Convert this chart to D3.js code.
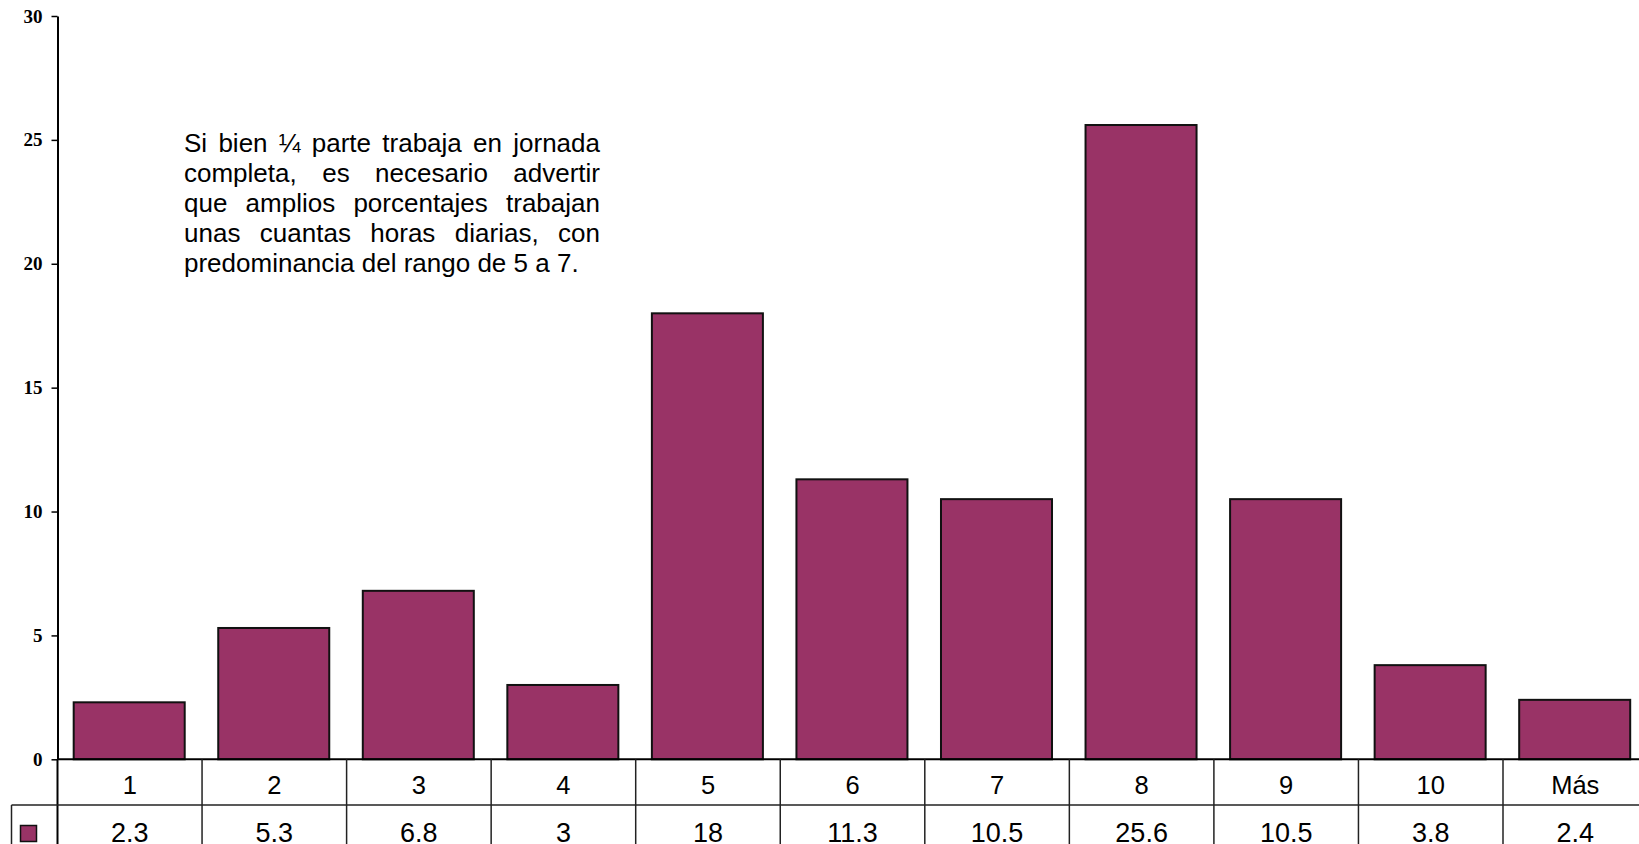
<!DOCTYPE html>
<html>
<head>
<meta charset="utf-8">
<script src="https://cdn.jsdelivr.net/npm/d3@7"></script>
<style>
  html, body { margin: 0; padding: 0; background: #fff; }
  svg { display: block; }
</style>
</head>
<body>
<svg id="chart" width="1639" height="844"></svg>
<script>
// ---- data ----
const categories = ["1", "2", "3", "4", "5", "6", "7", "8", "9", "10", "Más"];
const values = [2.3, 5.3, 6.8, 3, 18, 11.3, 10.5, 25.6, 10.5, 3.8, 2.4];
const valueLabels = ["2.3", "5.3", "6.8", "3", "18", "11.3", "10.5", "25.6", "10.5", "3.8", "2.4"];
const yTicks = [0, 5, 10, 15, 20, 25, 30];
const noteLines = [
  "Si bien ¼ parte trabaja en jornada",
  "completa, es necesario advertir",
  "que amplios porcentajes trabajan",
  "unas cuantas horas diarias, con",
  "predominancia del rango de 5 a 7."
];

// ---- layout ----
const W = 1639, H = 844;
const x0 = 57.5, step = 144.55;
const yTop = 16, yZero = 759.3;
const rowSplit = 805;
const barColor = "#993366";

const svg = d3.select("#chart");

const x = d3.scaleBand()
  .domain(categories)
  .range([x0, x0 + step * categories.length])
  .padding(0);

const y = d3.scaleLinear().domain([0, 30]).range([yZero, yTop]);

// bars
const inset = x.bandwidth() * 0.112;
const bw = x.bandwidth() * 0.768;
svg.append("g").selectAll("rect")
  .data(values)
  .join("rect")
  .attr("x", (d, i) => x(categories[i]) + inset)
  .attr("y", d => y(d))
  .attr("width", bw)
  .attr("height", d => y(0) - y(d))
  .attr("fill", barColor)
  .attr("stroke", "#111")
  .attr("stroke-width", 2);

// y axis
const yAxis = d3.axisLeft(y)
  .tickValues(yTicks)
  .tickSize(6)
  .tickSizeOuter(0)
  .tickPadding(9)
  .tickFormat(d3.format("d"));

const gy = svg.append("g")
  .attr("transform", `translate(${x0},0)`)
  .call(yAxis);
gy.select(".domain").attr("stroke", "#000").attr("stroke-width", 2);
gy.selectAll(".tick line").attr("stroke", "#000").attr("stroke-width", 1.5);
gy.selectAll(".tick text")
  .attr("font-family", "'Liberation Serif', 'Times New Roman', serif")
  .attr("font-weight", "bold")
  .attr("font-size", 19)
  .attr("fill", "#000");

// axis extension down through the table
svg.append("line")
  .attr("x1", x0).attr("x2", x0)
  .attr("y1", yZero).attr("y2", H)
  .attr("stroke", "#000").attr("stroke-width", 2);

// horizontal baseline / table lines
svg.append("line")
  .attr("x1", x0).attr("x2", W)
  .attr("y1", yZero).attr("y2", yZero)
  .attr("stroke", "#000").attr("stroke-width", 2);
svg.append("line")
  .attr("x1", 11.5).attr("x2", W)
  .attr("y1", rowSplit).attr("y2", rowSplit)
  .attr("stroke", "#222").attr("stroke-width", 1.5);
svg.append("line")
  .attr("x1", 11.5).attr("x2", 11.5)
  .attr("y1", rowSplit).attr("y2", H)
  .attr("stroke", "#222").attr("stroke-width", 1.5);

// vertical cell dividers
svg.append("g").selectAll("line")
  .data(categories.slice(1))
  .join("line")
  .attr("x1", d => x(d)).attr("x2", d => x(d))
  .attr("y1", yZero).attr("y2", H)
  .attr("stroke", "#222").attr("stroke-width", 1.5);

// category labels
svg.append("g").selectAll("text")
  .data(categories)
  .join("text")
  .attr("x", d => x(d) + x.bandwidth() / 2)
  .attr("y", 793.5)
  .attr("text-anchor", "middle")
  .attr("font-family", "'Liberation Sans', Arial, sans-serif")
  .attr("font-size", 25.5)
  .attr("fill", "#000")
  .text(d => d);

// value labels
svg.append("g").selectAll("text")
  .data(valueLabels)
  .join("text")
  .attr("x", (d, i) => x(categories[i]) + x.bandwidth() / 2)
  .attr("y", 842)
  .attr("text-anchor", "middle")
  .attr("font-family", "'Liberation Sans', Arial, sans-serif")
  .attr("font-size", 27)
  .attr("fill", "#000")
  .text(d => d);

// legend key
svg.append("rect")
  .attr("x", 20.5).attr("y", 825.5)
  .attr("width", 16).attr("height", 16)
  .attr("fill", barColor)
  .attr("stroke", "#111").attr("stroke-width", 1.5);

// annotation (justified)
const noteX = 184, noteW = 416, noteY0 = 152, lineH = 30;
const noteFont = "'Liberation Sans', Arial, sans-serif";
const noteG = svg.append("g")
  .attr("font-family", noteFont)
  .attr("font-size", 26)
  .attr("fill", "#000");

noteLines.forEach((line, li) => {
  const yy = noteY0 + li * lineH;
  const words = line.split(" ");
  if (li === noteLines.length - 1) {
    noteG.append("text").attr("x", noteX).attr("y", yy).text(line);
    return;
  }
  const widths = words.map(w => {
    const t = noteG.append("text").attr("x", -1000).attr("y", -1000).text(w);
    const wd = t.node().getComputedTextLength();
    t.remove();
    return wd;
  });
  const total = d3.sum(widths);
  const gap = (noteW - total) / (words.length - 1);
  let cx = noteX;
  words.forEach((w, wi) => {
    noteG.append("text").attr("x", cx).attr("y", yy).text(w);
    cx += widths[wi] + gap;
  });
});
</script>
</body>
</html>
